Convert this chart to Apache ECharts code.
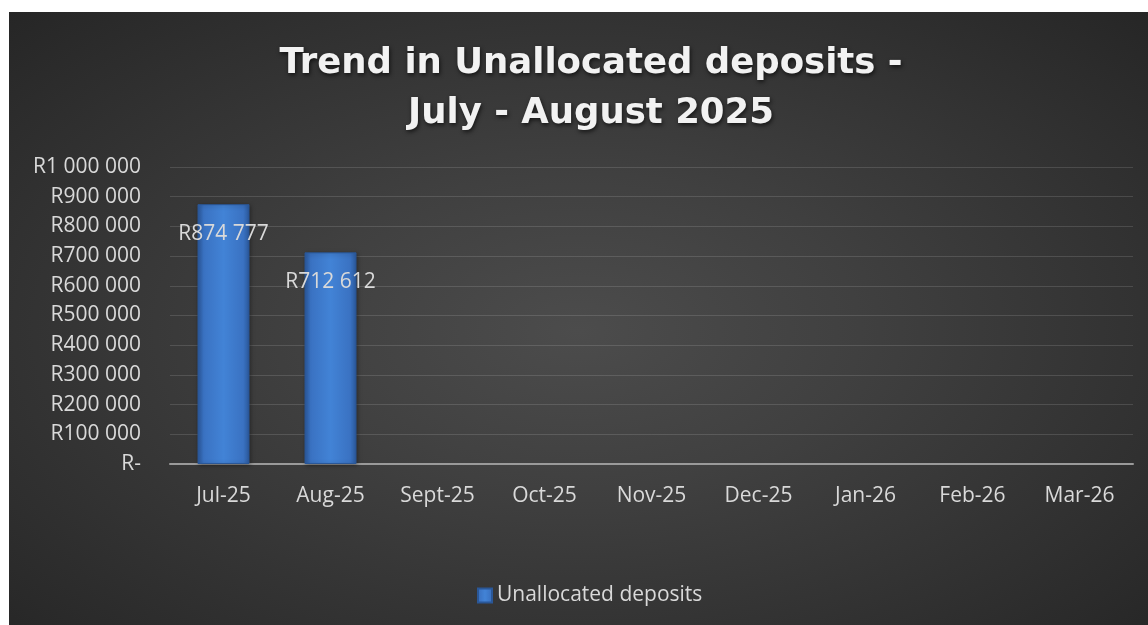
<!DOCTYPE html>
<html>
<head>
<meta charset="utf-8">
<title>Trend in Unallocated deposits</title>
<script src="https://cdn.jsdelivr.net/npm/echarts@6/dist/echarts.min.js"></script>
<style>
  html, body { margin: 0; padding: 0; background: #ffffff; }
  #chart {
    position: absolute;
    left: 9px; top: 12px;
    width: 1139px; height: 613px;
    background: radial-gradient(ellipse at 50% 52%, #4c4c4c 0%, #404040 35%, #262626 100%);
  }
</style>
</head>
<body>
<div id="chart"></div>
<script>
// Monthly unallocated deposits (Rand), July 2025 - March 2026
const months = ['Jul-25', 'Aug-25', 'Sept-25', 'Oct-25', 'Nov-25', 'Dec-25', 'Jan-26', 'Feb-26', 'Mar-26'];
const deposits = [874777, 712612, null, null, null, null, null, null, null];
const seriesName = 'Unallocated deposits';
const titleText = 'Trend in Unallocated deposits -\nJuly - August 2025';

// Rand with space-separated thousands, e.g. R874 777; zero shows as R-
function rand(v) {
  if (v === 0) return 'R-';
  return 'R' + String(Math.round(v)).replace(/\B(?=(\d{3})+(?!\d))/g, ' ');
}

const textColor = '#d9d9d9';
const barFill = new echarts.graphic.LinearGradient(0, 0, 1, 0, [
  { offset: 0, color: '#2b5a9e' },
  { offset: 0.12, color: '#3a72c2' },
  { offset: 0.5, color: '#4283d6' },
  { offset: 0.88, color: '#3a72c2' },
  { offset: 1, color: '#2b5a9e' }
]);

const chart = echarts.init(document.getElementById('chart'), null, { renderer: 'canvas' });
chart.setOption({
  backgroundColor: 'transparent',
  animation: false,
  title: {
    text: titleText,
    left: 577,
    textAlign: 'center',
    top: 22,
    textStyle: {
      fontFamily: 'DejaVu Sans',
      fontWeight: 'bold',
      fontSize: 35.5,
      lineHeight: 50,
      color: '#f2f2f2',
      textShadowColor: 'rgba(0,0,0,0.65)',
      textShadowBlur: 4,
      textShadowOffsetX: 1,
      textShadowOffsetY: 2
    }
  },
  legend: {
    left: 463,
    top: 568,
    itemWidth: 14,
    itemHeight: 14,
    icon: 'rect',
    textStyle: { color: textColor, fontFamily: 'Open Sans', fontSize: 21 },
    data: [seriesName]
  },
  grid: { left: 161, right: 15, top: 155, bottom: 161, containLabel: false },
  xAxis: {
    type: 'category',
    data: months,
    axisLine: { lineStyle: { color: '#9a9a9a', width: 2 } },
    axisTick: { show: false },
    axisLabel: { color: textColor, fontFamily: 'Open Sans', fontSize: 21, margin: 22 }
  },
  yAxis: {
    type: 'value',
    min: 0,
    max: 1000000,
    interval: 100000,
    axisLine: { show: false },
    axisTick: { show: false },
    splitLine: { lineStyle: { color: 'rgba(255,255,255,0.13)', width: 1 } },
    axisLabel: {
      color: textColor,
      fontFamily: 'Open Sans',
      fontSize: 21,
      margin: 29,
      formatter: rand
    }
  },
  series: [{
    name: seriesName,
    type: 'bar',
    data: deposits,
    barWidth: 52,
    itemStyle: {
      color: barFill,
      borderColor: '#2a5797',
      borderWidth: 1,
      shadowColor: 'rgba(0,0,0,0.35)',
      shadowBlur: 4,
      shadowOffsetX: 1,
      shadowOffsetY: 1
    },
    label: {
      show: true,
      position: 'insideTop',
      distance: 19,
      color: textColor,
      fontFamily: 'Open Sans',
      fontSize: 21,
      formatter: p => rand(p.value)
    }
  }]
});
</script>
</body>
</html>
